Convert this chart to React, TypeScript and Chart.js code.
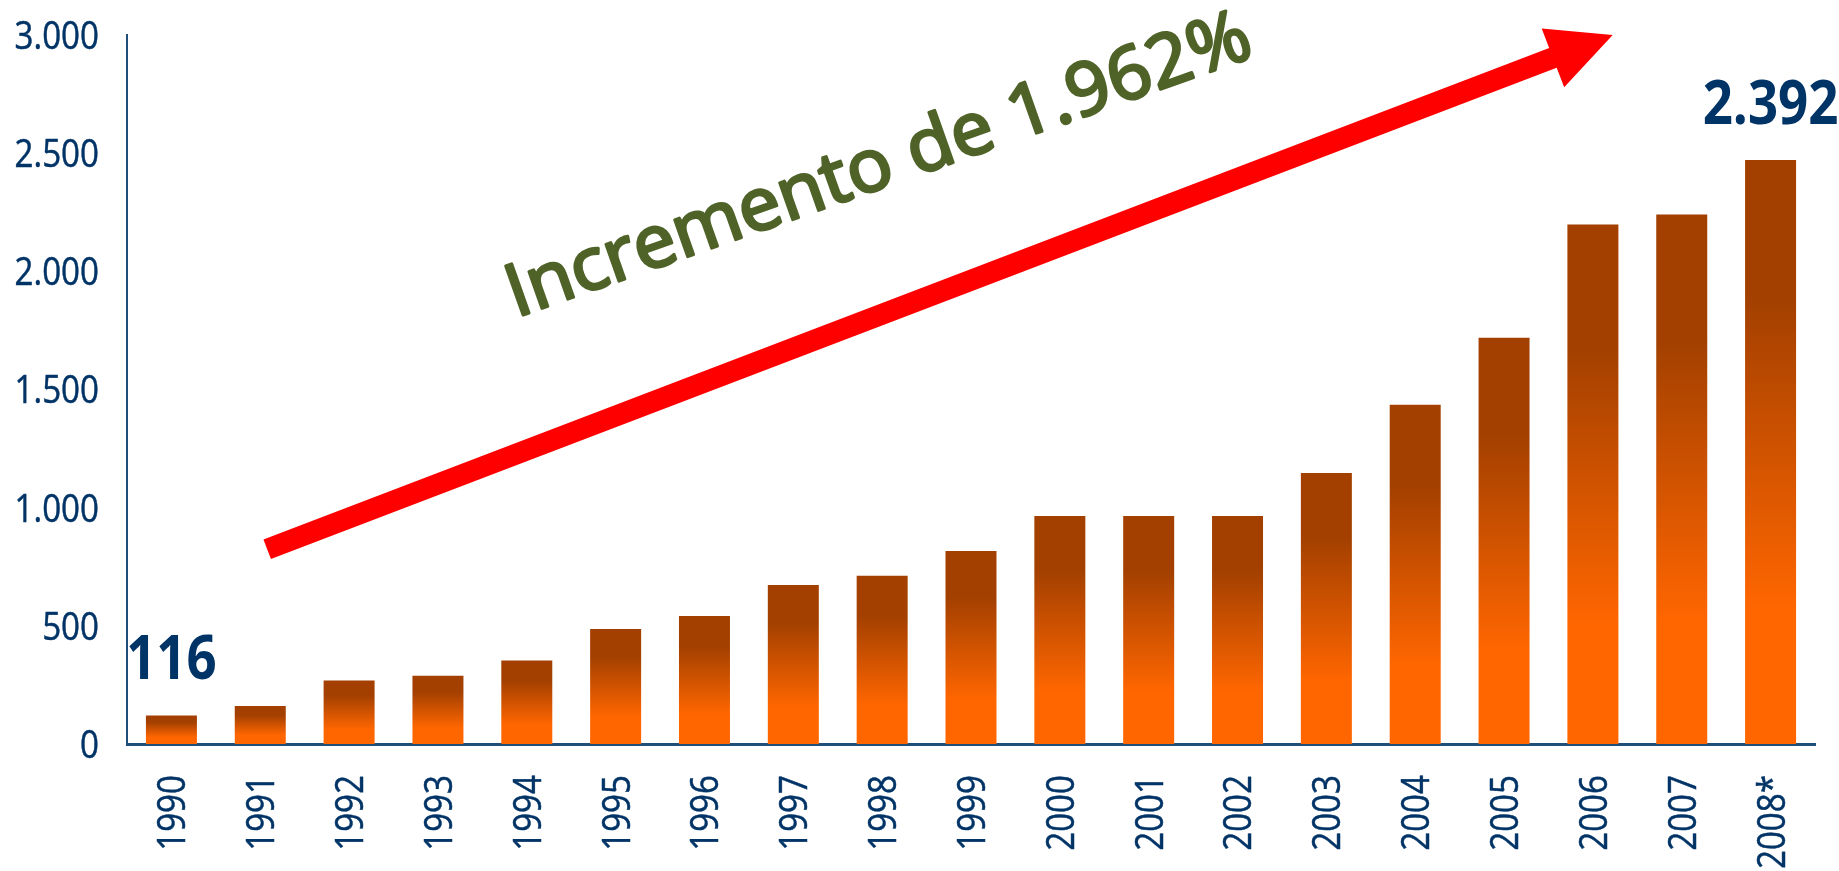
import React, { useEffect, useRef } from 'react';
import { Chart, registerables } from 'chart.js';

Chart.register(...registerables);

const categories = ['1990', '1991', '1992', '1993', '1994', '1995', '1996', '1997', '1998', '1999', '2000', '2001', '2002', '2003', '2004', '2005', '2006', '2007', '2008*'];
const values = [121, 161, 269, 289, 353, 487, 542, 673, 712, 817, 965, 965, 965, 1147, 1436, 1719, 2198, 2240, 2471];
const valueLabels = ['116', '', '', '', '', '', '', '', '', '', '', '', '', '', '', '', '', '', '2.392'];
const yMin = 0;
const yMax = 3000;
const yStep = 500;
const headline = 'Incremento de 1.962%';

// annotation anchors in data space (category index, value)
const arrowTail = { x: 1.078, y: 824 };
const arrowTip = { x: 16.223, y: 3000 };
const headlineAnchor = { x: 3.957, y: 1815 };

const NAVY = '#003366';
const FONT = '"Open Sans", "Noto Sans", "DejaVu Sans", sans-serif';
const TICK_SIZE = 39;
const TICK_SX = 0.85;
const CAP = 0.714;

function fmt(v: number): string {
  return String(v).replace(/\B(?=(\d{3})+(?!\d))/g, '.');
}

function zeroPad(s: any) {
  s.paddingTop = 0;
  s.paddingBottom = 0;
  s.paddingLeft = 0;
  s.paddingRight = 0;
}

const decorPlugin = {
  id: 'decor',
  afterDatasetsDraw(chart: any) {
    const ctx: CanvasRenderingContext2D = chart.ctx;
    const xs = chart.scales.x;
    const ys = chart.scales.y;
    const meta = chart.getDatasetMeta(0);

    // y tick labels
    ctx.save();
    ctx.fillStyle = NAVY;
    ctx.strokeStyle = NAVY;
    ctx.lineWidth = 0.5;
    ctx.font = `${TICK_SIZE}px ${FONT}`;
    ctx.textAlign = 'right';
    ctx.textBaseline = 'alphabetic';
    ys.ticks.forEach((t: any) => {
      const py = ys.getPixelForValue(t.value);
      ctx.save();
      ctx.translate(ys.right - 28, py + (TICK_SIZE * CAP) / 2);
      ctx.scale(TICK_SX, 1);
      ctx.fillText(fmt(t.value), 0, 0);
      ctx.strokeText(fmt(t.value), 0, 0);
      ctx.restore();
    });
    ctx.restore();

    // x tick labels (rotated, reading bottom to top)
    ctx.save();
    ctx.fillStyle = NAVY;
    ctx.strokeStyle = NAVY;
    ctx.lineWidth = 0.5;
    ctx.font = `${TICK_SIZE}px ${FONT}`;
    ctx.textAlign = 'right';
    ctx.textBaseline = 'alphabetic';
    xs.ticks.forEach((t: any, i: number) => {
      const px = xs.getPixelForTick(i);
      ctx.save();
      ctx.translate(px, xs.top + 31);
      ctx.rotate(-Math.PI / 2);
      ctx.scale(TICK_SX, 1);
      ctx.fillText(categories[t.value], 0, (TICK_SIZE * CAP) / 2);
      ctx.strokeText(categories[t.value], 0, (TICK_SIZE * CAP) / 2);
      ctx.restore();
    });
    ctx.restore();

    // value labels
    ctx.save();
    ctx.fillStyle = NAVY;
    ctx.font = `bold 60px ${FONT}`;
    ctx.textAlign = 'center';
    ctx.textBaseline = 'alphabetic';
    valueLabels.forEach((t, i) => {
      if (!t) return;
      const el = meta.data[i];
      ctx.save();
      ctx.translate(el.x, el.y - 36);
      ctx.scale(0.88, 1);
      ctx.fillText(t, 0, 0);
      ctx.restore();
    });
    ctx.restore();

    // arrow
    const x0 = xs.getPixelForValue(arrowTail.x);
    const y0 = ys.getPixelForValue(arrowTail.y);
    const x1 = xs.getPixelForValue(arrowTip.x);
    const y1 = ys.getPixelForValue(arrowTip.y);
    const len = Math.hypot(x1 - x0, y1 - y0);
    const ang = Math.atan2(y1 - y0, x1 - x0);
    const shaftW = 21;
    const headL = 64;
    const headW = 63;
    ctx.save();
    ctx.translate(x0, y0);
    ctx.rotate(ang);
    ctx.fillStyle = '#FF0000';
    ctx.beginPath();
    ctx.moveTo(0, -shaftW / 2);
    ctx.lineTo(len - headL, -shaftW / 2);
    ctx.lineTo(len - headL, -headW / 2);
    ctx.lineTo(len, 0);
    ctx.lineTo(len - headL, headW / 2);
    ctx.lineTo(len - headL, shaftW / 2);
    ctx.lineTo(0, shaftW / 2);
    ctx.closePath();
    ctx.fill();
    ctx.restore();

    // headline (regular weight thickened to a semibold look)
    const hx = xs.getPixelForValue(headlineAnchor.x);
    const hy = ys.getPixelForValue(headlineAnchor.y);
    ctx.save();
    ctx.font = `73px ${FONT}`;
    ctx.fillStyle = '#4F6228';
    ctx.strokeStyle = '#4F6228';
    ctx.lineWidth = 3;
    ctx.lineJoin = 'round';
    ctx.textAlign = 'left';
    ctx.textBaseline = 'alphabetic';
    const m = ctx.measureText(headline);
    const inkL = m.actualBoundingBoxLeft;
    const inkW = m.actualBoundingBoxLeft + m.actualBoundingBoxRight;
    const sx = 774 / inkW;
    ctx.translate(hx, hy);
    ctx.rotate((-19.5 * Math.PI) / 180);
    ctx.scale(sx, 1);
    ctx.fillText(headline, inkL, 0);
    ctx.strokeText(headline, inkL, 0);
    ctx.restore();
  },
};

export default function App() {
  const ref = useRef<HTMLCanvasElement | null>(null);
  useEffect(() => {
    document.body.style.margin = '0';
    const canvas = ref.current;
    if (!canvas) return;
    const chart = new Chart(canvas, {
      type: 'bar',
      data: {
        labels: categories,
        datasets: [
          {
            data: values,
            borderWidth: 0,
            categoryPercentage: 1,
            barPercentage: 0.574,
            backgroundColor: (c: any) => {
              const ch = c.chart;
              const ys = ch.scales && ch.scales.y;
              if (!ys || c.type !== 'data') return '#FF6600';
              const top = ys.getPixelForValue(c.raw as number);
              const bottom = ys.getPixelForValue(0);
              if (!isFinite(top) || !isFinite(bottom) || top === bottom) return '#FF6600';
              const g = ch.ctx.createLinearGradient(0, top, 0, bottom);
              g.addColorStop(0, '#A34000');
              g.addColorStop(0.24, '#A34000');
              g.addColorStop(0.77, '#FF6600');
              g.addColorStop(1, '#FF6600');
              return g;
            },
          },
        ],
      },
      options: {
        animation: false,
        responsive: false,
        maintainAspectRatio: false,
        layout: { padding: { top: 35, right: 24, left: 0, bottom: 0 } },
        plugins: {
          legend: { display: false },
          tooltip: { enabled: false },
          title: { display: false },
        },
        scales: {
          x: {
            grid: { display: false, drawTicks: false },
            border: { display: true, color: '#1F4E79', width: 3 },
            ticks: {
              display: false,
              autoSkip: false,
            },
            afterFit: (s: any) => {
              s.height = 127;
              zeroPad(s);
            },
          },
          y: {
            min: yMin,
            max: yMax,
            grid: { display: false, drawTicks: false },
            border: { display: true, color: '#1F4E79', width: 2 },
            ticks: {
              display: false,
              stepSize: yStep,
              callback: (v: any) => fmt(Number(v)),
            },
            afterFit: (s: any) => {
              s.width = 127;
              zeroPad(s);
            },
          },
        },
      },
      plugins: [decorPlugin],
    });
    return () => chart.destroy();
  }, []);
  return (
    <div style={{ position: 'fixed', left: 0, top: 0, width: 1839, height: 871, background: '#fff' }}>
      <canvas ref={ref} width={1839} height={871} style={{ width: 1839, height: 871, display: 'block' }} />
    </div>
  );
}
